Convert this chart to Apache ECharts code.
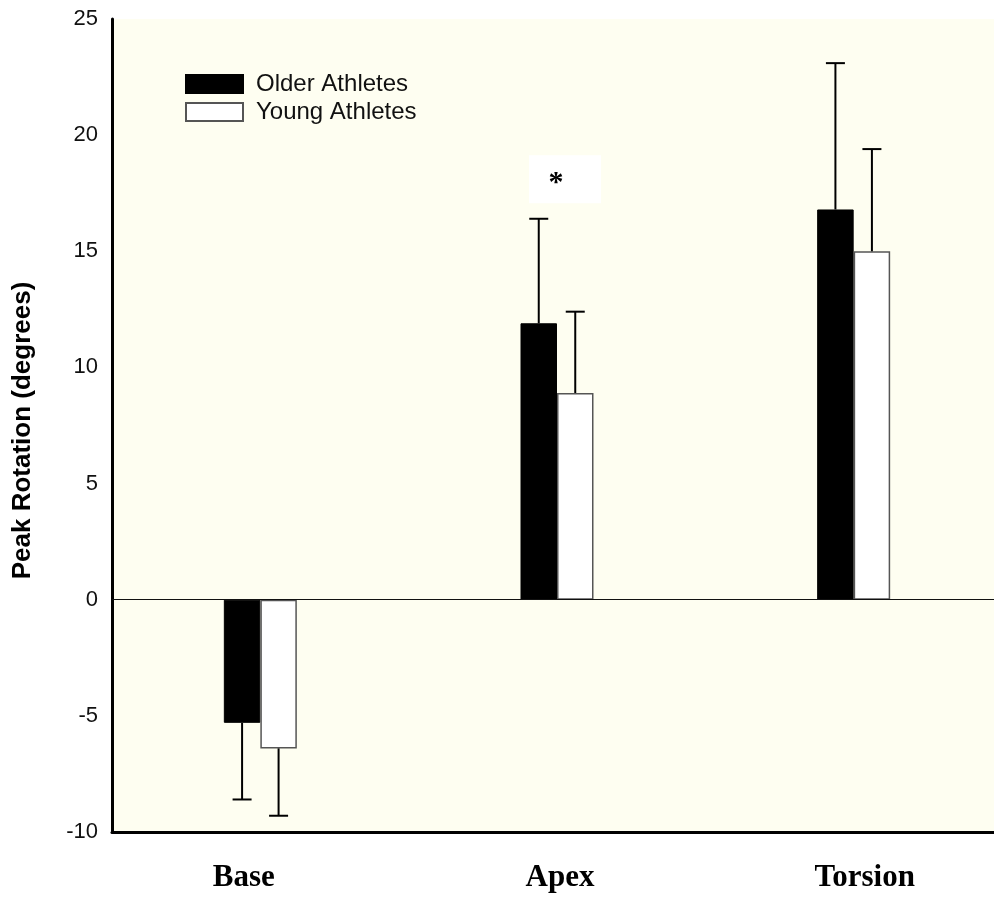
<!DOCTYPE html>
<html>
<head>
<meta charset="utf-8">
<style>
  html, body { margin: 0; padding: 0; background: #ffffff; }
  #chart { width: 994px; height: 901px; }
</style>
<script src="https://cdn.jsdelivr.net/npm/echarts@6/dist/echarts.min.js"></script>
</head>
<body>
<div id="chart"></div>
<script>
// ---- data ----
const categories = ['Base', 'Apex', 'Torsion'];
const seriesNames = ['Older Athletes', 'Young Athletes'];
const olderMeans = [-5.3, 11.9, 16.8];
const olderSD = [3.3, 4.5, 6.3];
const youngMeans = [-6.4, 8.9, 15.0];
const youngSD = [2.9, 3.5, 4.4];
const yTicks = { min: -10, max: 25, step: 5 };
const significance = [['Apex', 18.1, '*']];

// ---- layout constants ----
const BAR_W = 36.5;
const SANS = 'Liberation Sans, Arial, Helvetica, sans-serif';
const SERIF = 'Liberation Serif, Times New Roman, serif';
const labelShift = { Base: -16.5, Apex: 3, Torsion: 11 };

const chart = echarts.init(document.getElementById('chart'), null, { renderer: 'canvas' });

function errorBarSeries(means, sds, offsetSign) {
  return {
    type: 'custom',
    silent: true,
    z: 5,
    data: means.map((m, i) => [i, m, sds[i]]),
    renderItem: function (params, api) {
      const i = api.value(0), m = api.value(1), sd = api.value(2);
      const end = m >= 0 ? m + sd : m - sd;
      const p0 = api.coord([i, m]);
      const p1 = api.coord([i, end]);
      const x = p0[0] + offsetSign * BAR_W / 2;
      const capHalf = 9.5;
      const style = { stroke: '#000', lineWidth: 2 };
      return {
        type: 'group',
        children: [
          { type: 'line', shape: { x1: x, y1: p0[1], x2: x, y2: p1[1] }, style: style },
          { type: 'line', shape: { x1: x - capHalf, y1: p1[1], x2: x + capHalf, y2: p1[1] }, style: style }
        ]
      };
    }
  };
}

const option = {
  animation: false,
  backgroundColor: '#ffffff',
  grid: {
    left: 112, top: 19, width: 890, bottom: 69,
    outerBoundsMode: 'none',
    containLabel: false,
    show: true, backgroundColor: '#FEFEF1', borderWidth: 0
  },
  legend: {
    orient: 'vertical',
    left: 185, top: 72, padding: 0,
    icon: 'rect',
    itemWidth: 57, itemHeight: 18, itemGap: 4,
    data: seriesNames,
    textStyle: { fontFamily: SANS, fontSize: 24, color: '#111', padding: [0, 0, 0, 8] }
  },
  xAxis: {
    type: 'category',
    data: categories,
    axisLine: { onZero: false, lineStyle: { color: '#000', width: 3 } },
    axisTick: { show: false },
    axisLabel: {
      margin: 30,
      formatter: function (v) {
        const s = labelShift[v] || 0;
        return '{' + (s < 0 ? 'l' : 'r') + v + '|' + v + '}';
      },
      rich: (function () {
        const r = {};
        categories.forEach(c => {
          const s = labelShift[c] || 0;
          const st = { fontFamily: SERIF, fontWeight: 'bold', fontSize: 31, color: '#000' };
          st.padding = s < 0 ? [0, -2 * s, 0, 0] : [0, 0, 0, 2 * s];
          r[(s < 0 ? 'l' : 'r') + c] = st;
        });
        return r;
      })()
    }
  },
  yAxis: {
    type: 'value',
    min: yTicks.min, max: yTicks.max, interval: yTicks.step,
    axisLine: { show: true, lineStyle: { color: '#000', width: 3 } },
    axisTick: { show: false },
    splitLine: { show: false },
    axisLabel: { margin: 14, fontFamily: SANS, fontSize: 22, color: '#111' },
    name: 'Peak Rotation (degrees)',
    nameLocation: 'middle',
    nameGap: 76,
    nameTextStyle: { fontFamily: SANS, fontWeight: 'bold', fontSize: 26, color: '#000', padding: [0, 10, 0, 0] }
  },
  series: [
    {
      name: seriesNames[0], type: 'bar', data: olderMeans,
      barWidth: BAR_W, barGap: '0%',
      itemStyle: { color: '#000', borderColor: '#000', borderWidth: 1 },
      markLine: {
        silent: true, symbol: 'none', label: { show: false },
        lineStyle: { color: '#111', width: 1.2, type: 'solid' },
        data: [{ yAxis: 0 }]
      }
    },
    {
      name: seriesNames[1], type: 'bar', data: youngMeans,
      barWidth: BAR_W, barGap: '0%',
      itemStyle: { color: '#ffffff', borderColor: '#555', borderWidth: 1.5 }
    },
    errorBarSeries(olderMeans, olderSD, -1),
    errorBarSeries(youngMeans, youngSD, 1),
    {
      type: 'custom', silent: true, z: 6,
      data: significance.map(s => [categories.indexOf(s[0]), s[1], s[2]]),
      renderItem: function (params, api) {
        const p = api.coord([api.value(0), api.value(1)]);
        return {
          type: 'group',
          children: [
            { type: 'rect', shape: { x: p[0] + 8 - 36, y: p[1] - 24, width: 72, height: 48 }, style: { fill: '#ffffff' } },
            { type: 'text', style: { text: significance[params.dataIndex][2], x: p[0] - 1, y: p[1] + 4, align: 'center', verticalAlign: 'middle', fontFamily: SERIF, fontWeight: 'bold', fontSize: 30, fill: '#000' } }
          ]
        };
      }
    }
  ]
};
chart.setOption(option);
</script>
</body>
</html>
